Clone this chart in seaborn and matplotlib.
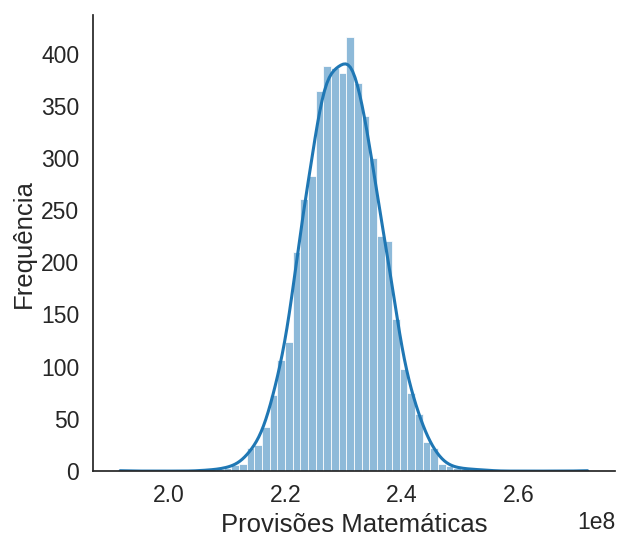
import numpy as np
import matplotlib
matplotlib.use("Agg")
import matplotlib.pyplot as plt
import seaborn as sns

# ---- data ----
x_min = 1.9103e8
x_max = 2.7252e8
n_bins = 62
bin_counts = [1, 0, 0, 0, 0, 0, 0, 0, 0, 0,
              0, 1, 1, 2, 3, 6, 7, 22, 25, 42,
              73, 106, 124, 210, 261, 283, 364, 388, 386, 381,
              416, 372, 340, 300, 225, 220, 146, 98, 75, 55,
              28, 22, 7, 5, 3, 2, 2, 1, 1, 0,
              0, 0, 0, 0, 0, 0, 0, 0, 0, 0,
              0, 1]
x_ticks = [2.0e8, 2.2e8, 2.4e8, 2.6e8]
x_label = "Provisões Matemáticas"
y_label = "Frequência"

assert len(bin_counts) == n_bins
edges = np.linspace(x_min, x_max, n_bins + 1)
centers = (edges[:-1] + edges[1:]) / 2
samples = np.repeat(centers, bin_counts)

sns.set_style("white")
sns.set_context("notebook", font_scale=1.4)
plt.rcParams["font.family"] = ["Liberation Sans", "DejaVu Sans"]

fig = plt.figure(figsize=(6.17, 5.39), dpi=100)
ax = fig.add_axes([0.150, 0.126, 0.847, 0.846])
sns.histplot(x=samples, bins=edges, kde=True, alpha=0.5, color="#1f77b4",
             kde_kws=dict(bw_adjust=1.3),
             line_kws=dict(linewidth=2.2), ax=ax)
ax.set_xlabel(x_label, fontsize=18.5)
ax.set_ylabel(y_label, fontsize=18.5)
ax.set_xticks(x_ticks)
ax.tick_params(labelsize=16.5)
ax.xaxis.get_offset_text().set_fontsize(16.5)
sns.despine(ax=ax)
fig.savefig("out.png", dpi=100)
